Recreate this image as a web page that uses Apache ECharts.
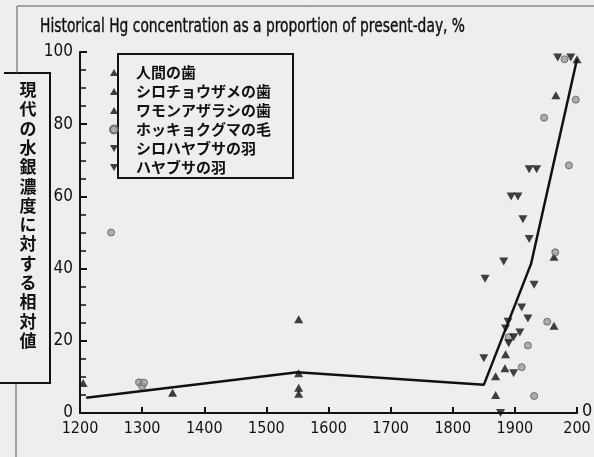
<!DOCTYPE html>
<html>
<head>
<meta charset="utf-8">
<script src="https://cdn.jsdelivr.net/npm/echarts@6/dist/echarts.min.js"></script>
<style>
  html, body { margin: 0; padding: 0; background: #eeeeec; }
  #main { width: 594px; height: 457px; }
</style>
</head>
<body>
<div id="main"></div>
<script>
// values (year, % of present-day)
const seriesNames = ['人間の歯', 'シロチョウザメの歯', 'ワモンアザラシの歯', 'ホッキョクグマの毛', 'シロハヤブサの羽', 'ハヤブサの羽'];
const humanTeeth = [[1205, 8.3], [1349, 5.6], [1552, 26], [1552, 11], [1552, 7], [1552, 5.3]];
const sturgeonTeeth = [[1869, 10.2], [1869, 5], [1884, 12.4], [1885, 16.3]];
const sealTeeth = [[1963, 43.3], [1963, 24.2], [1966, 88], [2000, 98]];
const bearHair = [[1250, 50], [1295, 8.5], [1300, 7.4], [1303, 8.4], [1890, 21], [1911, 12.7], [1921, 18.7],
  [1931, 4.7], [1947, 81.8], [1952, 25.3], [1965, 44.5], [1980, 98], [1987, 68.6], [1998, 86.8]];
const gyrfalconFeathers = [[1850, 15.2], [1852, 37.2], [1877, 0], [1882, 42], [1885, 23.4], [1889, 25.3],
  [1890, 19.3], [1898, 21], [1898, 11], [1908, 22.3]];
const peregrineFeathers = [[1894, 60], [1905, 60], [1911, 29.2], [1913, 53.7], [1921, 26.2], [1923, 48.2],
  [1923, 67.5], [1931, 35.5], [1935, 67.5], [1969, 98.5], [1990, 98.5]];
const trendYears = [1210, 1550, 1850, 1926, 2000];
const trendValues = [4.2, 11.3, 7.8, 41.3, 98];
const xTicks = [1200, 1300, 1400, 1500, 1600, 1700, 1800, 1900, 2000];
const yTicks = [0, 20, 40, 60, 80, 100];
const titleText = 'Historical Hg concentration as a proportion of present-day, %';

const ink = '#111';
const jp = "'Noto Sans CJK JP', sans-serif";
const latin = "'Liberation Sans Narrow', 'DejaVu Sans Condensed', 'Liberation Sans', sans-serif";
const upIcon = 'path://M5,0 L10,9 L0,9 Z';
const downIcon = 'path://M0,0 L10,0 L5,9 Z';

// squeeze the title to the width of the condensed face in the scan
const ctx = document.createElement('canvas').getContext('2d');
ctx.font = '20px ' + latin;
const titleScale = 425 / ctx.measureText(titleText).width;

function tri(name, data, down) {
  return {
    name: name, type: 'scatter', data: data,
    symbol: 'triangle', symbolSize: [9, 8], symbolRotate: down ? 180 : 0,
    itemStyle: { color: ink }, z: 3
  };
}

const chart = echarts.init(document.getElementById('main'));
chart.setOption({
  backgroundColor: '#eeeeec',
  animation: false,
  grid: { left: 80, right: 17, top: 52, bottom: 44 },
  legend: {
    orient: 'vertical', left: 104, top: 58,
    itemWidth: 8, itemHeight: 8, itemGap: 0,
    data: seriesNames.map((n, i) => ({ name: n, icon: i === 3 ? 'circle' : (i >= 4 ? downIcon : upIcon) })),
    textStyle: { fontFamily: jp, fontSize: 15, fontWeight: 'bold', color: ink, lineHeight: 19, padding: [0, 0, 0, 13] }
  },
  xAxis: {
    type: 'value', min: xTicks[0], max: xTicks[xTicks.length - 1], interval: 100,
    axisLine: { lineStyle: { color: ink, width: 2 } },
    axisTick: { inside: true, length: 6, lineStyle: { color: ink, width: 2 } },
    splitLine: { show: false },
    axisLabel: {
      margin: 8, fontSize: 16, color: ink, fontFamily: latin,
      formatter: v => (v === 2000 ? '200' : String(v))
    }
  },
  yAxis: {
    type: 'value', min: yTicks[0], max: yTicks[yTicks.length - 1], interval: 20,
    axisLine: { show: true, lineStyle: { color: ink, width: 2 } },
    axisTick: { show: true, inside: true, length: 7, lineStyle: { color: ink, width: 2 } },
    minorTick: { show: true, splitNumber: 4, length: 6, lineStyle: { color: ink, width: 1.5 } },
    splitLine: { show: false },
    axisLabel: { margin: 7, fontSize: 17, color: ink, fontFamily: latin }
  },
  series: [
    tri(seriesNames[0], humanTeeth, false),
    tri(seriesNames[1], sturgeonTeeth, false),
    tri(seriesNames[2], sealTeeth, false),
    {
      name: seriesNames[3], type: 'scatter', data: bearHair,
      symbol: 'circle', symbolSize: 7,
      itemStyle: { color: '#9c9c9c', borderColor: '#5a5a5a', borderWidth: 1 }, z: 3
    },
    tri(seriesNames[4], gyrfalconFeathers, true),
    tri(seriesNames[5], peregrineFeathers, true),
    {
      type: 'line', data: trendYears.map((y, i) => [y, trendValues[i]]),
      symbol: 'none', lineStyle: { color: ink, width: 2.5 }, clip: false, z: 2
    }
  ],
  graphic: [
    { type: 'text', x: 40, y: 17, scaleX: titleScale,
      style: { text: titleText, fontFamily: latin, fontSize: 20, fill: ink, stroke: ink, lineWidth: 0.4 } },
    { type: 'rect', shape: { x: 118, y: 54, width: 175, height: 124 }, style: { fill: null, stroke: ink, lineWidth: 2 } },
    { type: 'polyline', shape: { points: [[4, 73], [50, 73], [50, 383], [0, 383]] }, style: { fill: null, stroke: ink, lineWidth: 2 } },
    { type: 'text', x: 28, y: 215,
      style: { text: '現代の水銀濃度に対する相対値'.split('').join('\n'), fontFamily: jp, fontSize: 17, fontWeight: 'bold',
        lineHeight: 19.3, fill: ink, align: 'center', verticalAlign: 'middle' } },
    { type: 'line', shape: { x1: 17, y1: 6, x2: 594, y2: 6 }, style: { stroke: '#555', lineWidth: 1 } },
    { type: 'line', shape: { x1: 17, y1: 6, x2: 17, y2: 73 }, style: { stroke: '#555', lineWidth: 1 } },
    { type: 'line', shape: { x1: 16, y1: 383, x2: 16, y2: 457 }, style: { stroke: '#555', lineWidth: 1 } },
    { type: 'text', left: 582, top: 402, style: { text: '0', fontFamily: latin, fontSize: 18, fill: ink } }
  ]
});
</script>
</body>
</html>
